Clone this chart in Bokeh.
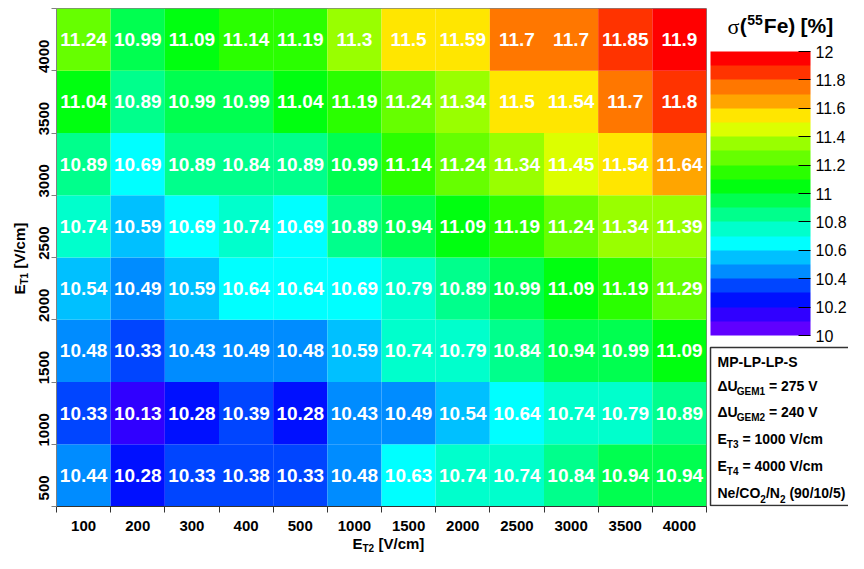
import math
from bokeh.plotting import figure
from bokeh.models import (Range1d, FixedTicker, ColorBar, LinearColorMapper,
                          ColumnDataSource)
from bokeh.transform import linear_cmap
from bokeh.layouts import row, column
from bokeh.embed import file_html
from bokeh.resources import INLINE
from bokeh.core.properties import value

# ---------------- data ----------------
et2_labels = ["100", "200", "300", "400", "500", "1000", "1500", "2000",
              "2500", "3000", "3500", "4000"]
et1_labels = ["500", "1000", "1500", "2000", "2500", "3000", "3500", "4000"]

sigma_et1_500 = [10.44, 10.28, 10.33, 10.38, 10.33, 10.48, 10.63, 10.74, 10.74, 10.84, 10.94, 10.94]
sigma_et1_1000 = [10.33, 10.13, 10.28, 10.39, 10.28, 10.43, 10.49, 10.54, 10.64, 10.74, 10.79, 10.89]
sigma_et1_1500 = [10.48, 10.33, 10.43, 10.49, 10.48, 10.59, 10.74, 10.79, 10.84, 10.94, 10.99, 11.09]
sigma_et1_2000 = [10.54, 10.49, 10.59, 10.64, 10.64, 10.69, 10.79, 10.89, 10.99, 11.09, 11.19, 11.29]
sigma_et1_2500 = [10.74, 10.59, 10.69, 10.74, 10.69, 10.89, 10.94, 11.09, 11.19, 11.24, 11.34, 11.39]
sigma_et1_3000 = [10.89, 10.69, 10.89, 10.84, 10.89, 10.99, 11.14, 11.24, 11.34, 11.45, 11.54, 11.64]
sigma_et1_3500 = [11.04, 10.89, 10.99, 10.99, 11.04, 11.19, 11.24, 11.34, 11.5, 11.54, 11.7, 11.8]
sigma_et1_4000 = [11.24, 10.99, 11.09, 11.14, 11.19, 11.3, 11.5, 11.59, 11.7, 11.7, 11.85, 11.9]

sigma_rows = [sigma_et1_500, sigma_et1_1000, sigma_et1_1500, sigma_et1_2000,
              sigma_et1_2500, sigma_et1_3000, sigma_et1_3500, sigma_et1_4000]

z_low, z_high = 10.0, 12.0
palette = ["#6000ff", "#3000ff", "#0010ff", "#0045ff", "#008cff",
           "#00c0ff", "#00ffff", "#00ffcc", "#00ff8c", "#00ff50",
           "#00ff10", "#2aff00", "#66ff00", "#99ff00", "#dcff00",
           "#ffe600", "#ffa500", "#ff7700", "#ff3300", "#ff0000"]
cb_ticks = [10.0, 10.2, 10.4, 10.6, 10.8, 11.0, 11.2, 11.4, 11.6, 11.8, 12.0]
cb_tick_labels = ["10", "10.2", "10.4", "10.6", "10.8", "11", "11.2", "11.4",
                  "11.6", "11.8", "12"]

# ---------------- source ----------------
xs, ys, vals, texts = [], [], [], []
for j, r in enumerate(sigma_rows):
    for i, v in enumerate(r):
        xs.append(i + 0.5)
        ys.append(j + 0.5)
        vals.append(v)
        texts.append(f"{v:g}")
src = ColumnDataSource(dict(x=xs, y=ys, v=vals, t=texts))

FONT = "Liberation Sans"
nx, ny = len(et2_labels), len(et1_labels)

# layout sizes (px)
TOP, FRAME_H, BOTTOM = 8, 498, 26
FB = TOP + FRAME_H                       # frame bottom in page px (506)
ROW_H = FB + BOTTOM                      # 532
LEFT_B, FRAME_W, RIGHT_B = 26, 650, 2
YLAB_W = 30
RIGHT_W = 140
TOTAL_W = YLAB_W + LEFT_B + FRAME_W + RIGHT_B + RIGHT_W   # 848
XLAB_H = 553 - ROW_H                     # 21

p = figure(frame_width=FRAME_W, frame_height=FRAME_H,
           x_range=Range1d(0, nx), y_range=Range1d(0, ny),
           toolbar_location=None, output_backend="svg", title=None,
           min_border_left=LEFT_B, min_border_right=RIGHT_B,
           min_border_top=TOP, min_border_bottom=BOTTOM)
eps = 1e-6
p.rect(x="x", y="y", width=1, height=1, source=src,
       fill_color=linear_cmap("v", palette, z_low - eps, z_high - eps), line_color=None)
p.text(x="x", y="y", text="t", source=src, text_color="white",
       text_font=value(FONT), text_font_style="bold", text_font_size="19px",
       text_align="center", text_baseline="middle")
p.grid.visible = False
p.outline_line_color = "#808080"
p.background_fill_color = "white"
p.border_fill_color = "white"

p.xaxis.ticker = FixedTicker(ticks=[i + 0.5 for i in range(nx)], minor_ticks=list(range(nx + 1)))
p.xaxis.major_label_overrides = {i + 0.5: lab for i, lab in enumerate(et2_labels)}
p.yaxis.ticker = FixedTicker(ticks=[j + 0.5 for j in range(ny)], minor_ticks=list(range(ny + 1)))
p.yaxis.major_label_overrides = {j + 0.5: lab for j, lab in enumerate(et1_labels)}
for ax in (p.xaxis, p.yaxis):
    ax.major_tick_line_color = None
    ax.major_tick_out = 0
    ax.major_tick_in = 0
    ax.minor_tick_in = 0
    ax.minor_tick_line_color = "#333333"
    ax.major_label_text_font = FONT
    ax.major_label_text_font_style = "bold"
    ax.major_label_text_font_size = "15px"
    ax.major_label_text_color = "black"
p.xaxis.minor_tick_out = 6
p.yaxis.minor_tick_out = 5
p.xaxis.axis_line_color = "#333333"
p.yaxis.axis_line_color = "#808080"
p.yaxis.minor_tick_line_color = "#808080"
p.xaxis.major_label_standoff = 8
p.yaxis.major_label_standoff = 8
p.yaxis.major_label_orientation = math.pi / 2


def helper(w, h, top=0, bottom=0):
    f = figure(frame_width=w, frame_height=h, x_range=Range1d(0, w), y_range=Range1d(0, h),
               toolbar_location=None, output_backend="svg", title=None,
               x_axis_location=None, y_axis_location=None, min_border=0,
               min_border_left=0, min_border_right=0,
               min_border_top=top, min_border_bottom=bottom)
    f.grid.visible = False
    f.outline_line_color = None
    f.background_fill_color = "white"
    f.border_fill_color = "white"
    return f


def txt(f, x, y, t, size, angle=0.0, style="bold", font=FONT):
    f.text(x=x, y=y, text=t, angle=angle, text_font=value(font), text_font_style=style,
           text_font_size=size, text_align="left", text_baseline="middle",
           text_color="black")


def Y(py):
    """page y (px from top) -> y in a side panel whose frame matches the heat-map frame"""
    return FB - py


# ---- y-axis title panel:  E_T1 [V/cm] (rotated) ----
ylab = helper(YLAB_W, FRAME_H, TOP, BOTTOM)
txt(ylab, [18.5], [Y(294)], ["E"], "15px", math.pi / 2)
txt(ylab, [23.5], [Y(284)], ["T1"], "10px", math.pi / 2)
txt(ylab, [18.5], [Y(268.1)], ["[V/cm]"], "15px", math.pi / 2)

# ---- x-axis title panel:  E_T2 [V/cm] ----
xlab = helper(TOTAL_W, XLAB_H)
txt(xlab, [352], [11.5], ["E"], "15px")
txt(xlab, [362], [6], ["T2"], "10px")
txt(xlab, [378], [11.5], ["[V/cm]"], "15px")

# ---- right panel: colour bar, its title and the info box ----
p2 = helper(RIGHT_W, FRAME_H, TOP, BOTTOM)
cb_mapper = LinearColorMapper(palette=palette, low=z_low, high=z_high)
cb = ColorBar(color_mapper=cb_mapper, orientation="vertical", location=(2, Y(335)),
              width=100, height=284, padding=0, margin=0,
              ticker=FixedTicker(ticks=cb_ticks),
              major_label_overrides=dict(zip(cb_ticks, cb_tick_labels)),
              major_label_text_font=FONT, major_label_text_font_size="16px",
              major_label_text_color="black", label_standoff=5,
              major_tick_in=12, major_tick_out=0, major_tick_line_color="black",
              minor_tick_line_color=None, bar_line_color=None,
              border_line_color=None, background_fill_color=None)
p2.add_layout(cb, "center")

txt(p2, [19], [Y(26)], ["σ"], "22px", style="normal", font="Liberation Serif")
txt(p2, [31.3, 55.3, 92], [Y(25)] * 3, ["(", "Fe)", "[%]"], "21px")
txt(p2, [38.7], [Y(19.5)], ["55"], "14px")

p2.quad(left=[2], right=[200], top=[Y(347)], bottom=[Y(505)], fill_color="white",
        line_color="#333333", line_width=1.5)
line_c = [361, 385, 411, 438, 465, 492]
b = [Y(c) for c in line_c]
main_x = [9, 9, 60.4, 9, 60.4, 9, 33.9, 9, 33.9, 9, 57.4, 80.9]
main_y = [b[0], b[1], b[1], b[2], b[2], b[3], b[3], b[4], b[4], b[5], b[5], b[5]]
main_t = ["MP-LP-LP-S", "ΔU", "= 275 V", "ΔU", "= 240 V", "E", "= 1000 V/cm",
          "E", "= 4000 V/cm", "Ne/CO", "/N", "(90/10/5)"]
txt(p2, main_x, main_y, main_t, "14px")
sub_x = [28.2, 28.2, 18.3, 18.3, 51.8, 71.4]
sub_y = [b[1] - 6, b[2] - 6, b[3] - 6, b[4] - 6, b[5] - 6, b[5] - 6]
sub_t = ["GEM1", "GEM2", "T3", "T4", "2", "2"]
txt(p2, sub_x, sub_y, sub_t, "10px")

layout = column(row(ylab, p, p2), xlab)
open("out.html", "w").write(file_html(layout, INLINE))
